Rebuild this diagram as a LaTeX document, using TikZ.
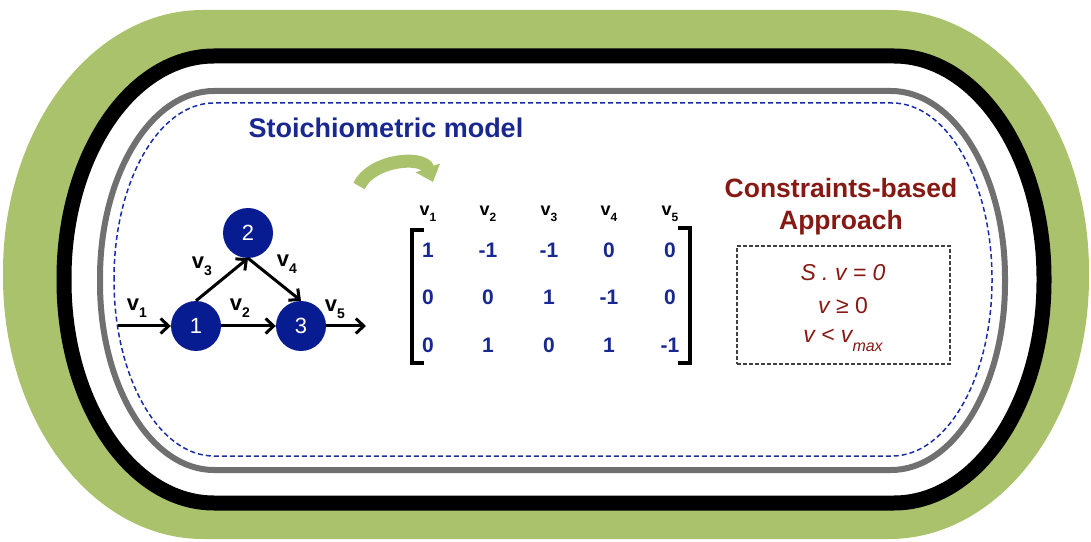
\documentclass[tikz,border=0pt]{standalone}
\usepackage{fontspec}
\setmainfont{Liberation Sans}
\usetikzlibrary{arrows.meta,positioning}
\definecolor{ringgreen}{RGB}{169,194,107}
\definecolor{ringgray}{RGB}{112,112,112}
\definecolor{dashblue}{RGB}{25,45,170}
\definecolor{nodeblue}{RGB}{8,28,145}
\definecolor{txtblue}{RGB}{25,40,145}
\definecolor{txtred}{RGB}{135,25,20}
\tikzset{
  rxn/.style   = {circle, fill=nodeblue, text=white, minimum size=50pt, inner sep=0pt,
                  font=\fontsize{22}{22}\selectfont},
  flux/.style  = {-{Straight Barb[length=8pt,width=15pt]}, line width=3pt},
  flbl/.style  = {font=\fontsize{22}{22}\selectfont\bfseries, inner sep=1pt, anchor=base},
  hdr/.style   = {font=\fontsize{18}{18}\selectfont\bfseries, inner sep=1pt, anchor=base},
  ent/.style   = {font=\fontsize{21}{21}\selectfont\bfseries, text=txtblue, inner sep=1pt, anchor=base},
  ttl/.style   = {font=\fontsize{27}{27}\selectfont\bfseries, inner sep=1pt, anchor=base},
  cstr/.style  = {font=\fontsize{23}{23}\selectfont, text=txtred, inner sep=1pt, anchor=base},
  brk/.style   = {line width=4pt},
}
% x1,y1,x2,y2,rx,ry : box with elliptic corners
\newcommand{\ovalbox}[6]{(#1,#2+#6) -- (#1,#4-#6)
  arc[start angle=180,end angle=90,x radius=#5,y radius=#6] -- (#3-#5,#4)
  arc[start angle=90,end angle=0,x radius=#5,y radius=#6] -- (#3,#2+#6)
  arc[start angle=0,end angle=-90,x radius=#5,y radius=#6] -- (#1+#5,#2)
  arc[start angle=270,end angle=180,x radius=#5,y radius=#6] -- cycle}
\newcommand{\vsub}[2][14]{v\raisebox{-.3em}{\fontsize{#1}{#1}\selectfont #2}}

\begin{document}
\begin{tikzpicture}[x=1pt, y=1pt]
\useasboundingbox (0,0) rectangle (1091,541);
% ---- rings ----
\fill[ringgreen] \ovalbox{3}{2}{1089}{531}{200}{262};
\draw[line width=15pt, fill=white] \ovalbox{64}{38}{1044}{485}{150}{222};
\draw[line width=6pt, ringgray] \ovalbox{100}{71}{1005}{450}{114}{187};
\draw[line width=1.5pt, dashblue, dash pattern=on 5pt off 3pt] \ovalbox{114}{85}{992}{438}{100}{176};

% ---- titles ----
\node[ttl, text=txtblue] (stoi) at (386,403) {Stoichiometric model};
\node[ttl, text=txtred, font=\fontsize{26.5}{26.5}\selectfont\bfseries] (cb1) at (841,343) {Constraints-based};
\node[ttl, text=txtred, font=\fontsize{26.5}{26.5}\selectfont\bfseries] (cb2) at (841,311) {Approach};

% ---- reaction network ----
\node[rxn] (n1) at (196,215) {1};
\node[rxn] (n2) at (248,308) {2};
\node[rxn] (n3) at (301,215) {3};
\coordinate (src) at (118,215);
\coordinate (snk) at (366,215);
\draw[flux] (src) -- (n1);
\draw[flux] (n1) -- (n3);
\draw[flux] (n1.north) -- (n2.south);
\draw[flux] (n2.south) -- (n3.north);
\draw[flux] (n3) -- (snk);
\node[flbl] (l1) at (137,230) {\vsub{1}};
\node[flbl] (l2) at (240,230) {\vsub{2}};
\node[flbl] (l3) at (202,272) {\vsub{3}};
\node[flbl] (l4) at (287,274) {\vsub{4}};
\node[flbl] (l5) at (335,229) {\vsub{5}};

% ---- green curved arrow ----
\coordinate (ga) at (359,355);
\coordinate (gb) at (433,359);
\draw[ringgreen, line width=13pt, -{Triangle[length=15pt,width=25pt]}]
  (ga) to[out=65,in=110] (gb);

% ---- matrix ----
\node[hdr] (h1) at (428,325) {\vsub[12]{1}};
\node[hdr] (h2) at (488,325) {\vsub[12]{2}};
\node[hdr] (h3) at (549,325) {\vsub[12]{3}};
\node[hdr] (h4) at (609,325) {\vsub[12]{4}};
\node[hdr] (h5) at (670,325) {\vsub[12]{5}};
\node[ent] (m11) at (428,283) {1};  \node[ent] (m12) at (488,283) {-1};
\node[ent] (m13) at (549,283) {-1}; \node[ent] (m14) at (609,283) {0};
\node[ent] (m15) at (670,283) {0};
\node[ent] (m21) at (428,236) {0};  \node[ent] (m22) at (488,236) {0};
\node[ent] (m23) at (549,236) {1};  \node[ent] (m24) at (609,236) {-1};
\node[ent] (m25) at (670,236) {0};
\node[ent] (m31) at (428,189) {0};  \node[ent] (m32) at (488,189) {1};
\node[ent] (m33) at (549,189) {0};  \node[ent] (m34) at (609,189) {1};
\node[ent] (m35) at (670,189) {-1};
\draw[brk] (424,311) -- (412,311) -- (412,178) -- (424,178);
\draw[brk] (678,313) -- (690,313) -- (690,178) -- (678,178);

% ---- constraints ----
\node[draw=black!75, line width=1.2pt, dash pattern=on 4pt off 2pt,
      minimum width=213pt, minimum height=118pt] (cbox) at (843.5,236) {};
\node[cstr] (c1) at (843,260) {\itshape S . v = 0};
\node[cstr] (c2) at (843,227) {\itshape v\upshape\ ≥ 0};
\node[cstr] (c3) at (843,198) {\itshape v < v\raisebox{-.35em}{\fontsize{16}{16}\selectfont max}};
\end{tikzpicture}
\end{document}
